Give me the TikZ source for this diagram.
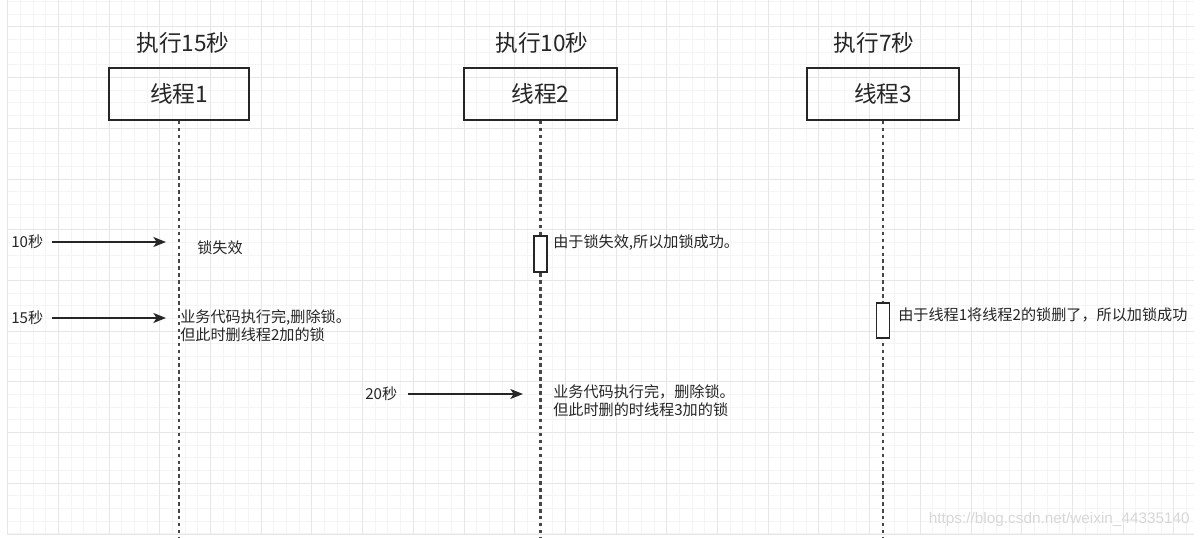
\documentclass[tikz,border=0pt]{standalone}
\usepackage{fontspec}
\setmainfont{Noto Sans CJK SC}
\newfontfamily\latinsans{Liberation Sans}
\usetikzlibrary{arrows.meta}
\definecolor{ink}{HTML}{262626}
\definecolor{gridminor}{HTML}{F4F4F4}
\definecolor{gridmajor}{HTML}{E6E6E6}
\definecolor{wm}{HTML}{D8D8D8}
\tikzset{
  head/.style={font=\fontsize{17}{20}\selectfont, text=ink, inner sep=0pt},
  thread/.style={draw=ink, line width=1.2pt, minimum height=52*0.75pt, font=\fontsize{17}{20}\selectfont, text=ink, inner sep=0pt},
  life/.style={draw=ink!85, line width=1.6pt, dash pattern=on 2.6pt off 2.6pt},
  act/.style={draw=ink, line width=1.1pt, fill=white, minimum width=13*0.75pt, inner sep=0pt},
  note/.style={font=\fontsize{11.35}{13.8}\selectfont, text=ink, inner sep=0pt, align=left},
  tick/.style={font=\fontsize{11.35}{13.8}\selectfont, text=ink, inner sep=0pt},
  msg/.style={draw=ink, line width=1.25pt, -{Stealth[length=9.5pt,width=7.5pt,inset=2.5pt]}},
}
\begin{document}
\begin{tikzpicture}[x=0.75pt,y=-0.75pt]
\useasboundingbox (0,0) rectangle (1201,538);
\fill[white] (0,0) rectangle (1201,538);
% grid
\foreach \i in {0,...,93} {
  \pgfmathsetmacro\gx{7.7+12.675*\i}
  \draw[gridminor, line width=0.75pt] (\gx,0) -- (\gx,534);
}
\foreach \j in {0,...,42} {
  \pgfmathsetmacro\gy{1.6+12.675*\j}
  \draw[gridminor, line width=0.75pt] (7,\gy) -- (1194,\gy);
}
\foreach \i in {0,...,23} {
  \pgfmathsetmacro\gx{7.7+50.7*\i}
  \draw[gridmajor, line width=0.75pt] (\gx,0) -- (\gx,534);
}
\foreach \j in {0,...,10} {
  \pgfmathsetmacro\gy{27+50.7*\j}
  \draw[gridmajor, line width=0.75pt] (7,\gy) -- (1194,\gy);
}
% headers
\node[head] (h1) at (183,43) {执行15秒};
\node[head] (h2) at (542,43) {执行10秒};
\node[head] (h3) at (874,43) {执行7秒};
% thread boxes
\node[thread, minimum width=140*0.75pt] (t1) at (179,94) {线程1};
\node[thread, minimum width=153*0.75pt] (t2) at (540.5,94) {线程2};
\node[thread, minimum width=152*0.75pt] (t3) at (883,94) {线程3};
% lifeline ends
\coordinate (e1) at (179,538);
\coordinate (e2) at (540.5,538);
\coordinate (e3) at (883,538);
\draw[life] (t1.south) -- (e1);
\draw[life] (t2.south) -- (e2);
\draw[life] (t3.south) -- (e3);
% activations
\node[act, minimum height=36*0.75pt] (a2) at (540.5,254) {};
\node[act, minimum height=35*0.75pt] (a3) at (883,320.5) {};
% time labels and arrows
\node[tick, anchor=west] (s10) at (11,242) {10秒};
\node[tick, anchor=west] (s15) at (11,318) {15秒};
\node[tick, anchor=west] (s20) at (365,394) {20秒};
\coordinate (b10) at (52,242); \coordinate (f10) at (166,242);
\coordinate (b15) at (52,318); \coordinate (f15) at (166,318);
\coordinate (b20) at (408,394); \coordinate (f20) at (523,394);
\draw[msg] (b10) -- (f10);
\draw[msg] (b15) -- (f15);
\draw[msg] (b20) -- (f20);
% notes
\node[note, anchor=west] (n1) at (197,248) {锁失效};
\node[note, anchor=north west] (n2) at (180,309) {业务代码执行完,删除锁。\\但此时删线程2加的锁};
\node[note, anchor=west] (n3) at (553,243) {由于锁失效,所以加锁成功。};
\node[note, anchor=west] (n4) at (898,315) {由于线程1将线程2的锁删了，所以加锁成功};
\node[note, anchor=north west] (n5) at (553,384) {业务代码执行完，删除锁。\\但此时删的时线程3加的锁};
% watermark
\node[font=\latinsans\fontsize{11.5}{13}\selectfont, text=wm, anchor=east, inner sep=0pt] (wmk) at (1190,520) {https://blog.csdn.net/weixin\_44335140};
\end{tikzpicture}
\end{document}
